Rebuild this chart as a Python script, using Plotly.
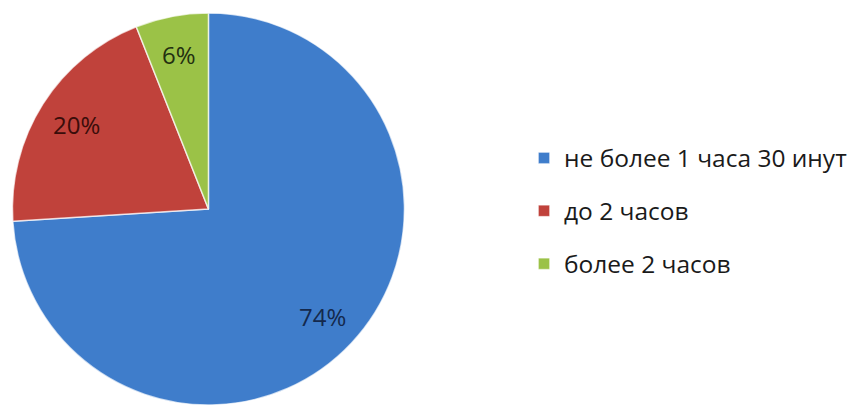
import math
import plotly.graph_objects as go

# Time spent, share of respondents
labels = ["не более 1 часа 30 инут", "до 2 часов", "более 2 часов"]
values = [74, 20, 6]
colors = ["#3f7dcb", "#c0423b", "#9bc247"]
text_colors = ["#14294d", "#3a0d0a", "#233010"]

FONT = "Open Sans"
W, H = 856, 405
PIE_X = [0.014, 0.473]
PIE_Y = [0.0, 0.968]
LABEL_R = 0.80  # percent labels sit at this fraction of the radius

fig = go.Figure()

fig.add_trace(go.Pie(
    labels=labels,
    values=values,
    sort=False,
    direction="clockwise",
    rotation=0,
    marker=dict(colors=colors, line=dict(color="rgba(255,255,255,0.7)", width=1.5)),
    textinfo="none",
    showlegend=False,
    domain=dict(x=PIE_X, y=PIE_Y),
    hoverinfo="label+percent",
))

# Percent labels placed along each slice's bisector
cx = (PIE_X[0] + PIE_X[1]) / 2
cy = (PIE_Y[0] + PIE_Y[1]) / 2
r_px = min((PIE_X[1] - PIE_X[0]) * W, (PIE_Y[1] - PIE_Y[0]) * H) / 2
total = sum(values)
cum = 0
for v, tc in zip(values, text_colors):
    mid = (cum + v / 2) / total * 2 * math.pi
    cum += v
    dx = math.sin(mid) * r_px * LABEL_R / W
    dy = math.cos(mid) * r_px * LABEL_R / H
    fig.add_annotation(
        x=cx + dx, y=cy + dy, xref="paper", yref="paper",
        text=f"{round(v / total * 100)}%",
        showarrow=False,
        font=dict(family=FONT, size=24, color=tc),
        xanchor="center", yanchor="middle",
    )

# Legend entries, one group per category so the rows can be spaced apart
for i, (lab, col) in enumerate(zip(labels, colors)):
    fig.add_trace(go.Scatter(
        x=[None], y=[None],
        mode="markers",
        name=lab,
        legendgroup=f"g{i}",
        marker=dict(symbol="square", size=11, color=col,
                    line=dict(color="rgba(255,255,255,0.6)", width=0.5)),
        showlegend=True,
        hoverinfo="skip",
    ))

fig.update_layout(
    width=W,
    height=H,
    margin=dict(l=0, r=0, t=0, b=0),
    paper_bgcolor="white",
    plot_bgcolor="white",
    xaxis=dict(visible=False),
    yaxis=dict(visible=False),
    font=dict(family=FONT, color="#1a1a1a"),
    legend=dict(
        x=524 / W, xanchor="left",
        y=0.479, yanchor="middle",
        font=dict(family=FONT, size=24.5, color="#1a1a1a"),
        tracegroupgap=18,
        traceorder="grouped",
        bgcolor="rgba(0,0,0,0)",
    ),
)

fig.write_html("out.html")
